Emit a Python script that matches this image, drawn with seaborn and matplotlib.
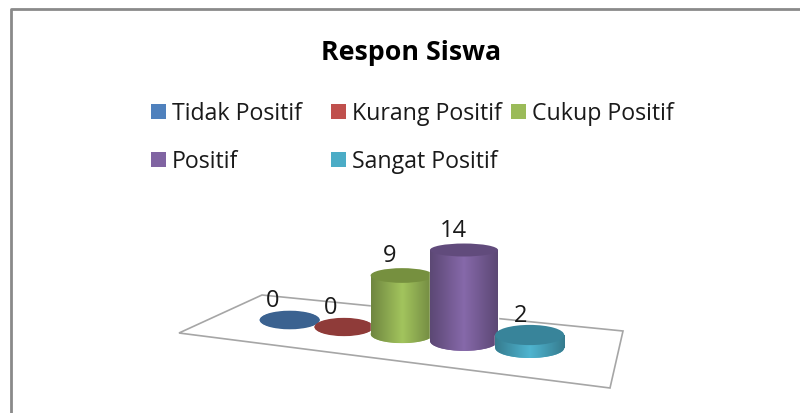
import numpy as np
import pandas as pd
import matplotlib
matplotlib.use("Agg")
import matplotlib.pyplot as plt
from matplotlib.patches import Ellipse, Rectangle, Polygon
from matplotlib.colors import LinearSegmentedColormap, to_rgb
import seaborn as sns

title = "Respon Siswa"
categories = ["Tidak Positif", "Kurang Positif", "Cukup Positif", "Positif", "Sangat Positif"]
values = [0, 0, 9, 14, 2]
colors = ["#4F81BD", "#C0504D", "#9BBB59", "#8064A2", "#4BACC6"]
top_colors = ["#3B6290", "#8F3B39", "#76903F", "#614B7C", "#38849A"]

sns.set_theme(style="white")
plt.rcParams["font.family"] = ["Open Sans", "DejaVu Sans"]

W, H = 800, 414
fig = plt.figure(figsize=(W / 100, H / 100), dpi=100, facecolor="white")
ax = fig.add_axes([0, 0, 1, 1])

# layout in pixels
PX_PER_UNIT = 6.5
X0, STEP, CURVE = 289.7, 52.4, 1.9
Y0, DROP = 321.0, 7.0
radius = [30, 29.5, 31.5, 34, 34.5]
label_dx = [-17, -13, -12, -11, -9]

df = pd.DataFrame({"cat": categories, "val": values})
sns.barplot(data=df, x="cat", y="val", hue="cat", palette=colors, legend=False,
            ax=ax, width=1.0, saturation=1)
ax.set_xlim(-X0, W - X0)                               # data x: pixels from the first bar
ax.set_ylim((Y0 - H) / PX_PER_UNIT, Y0 / PX_PER_UNIT)  # data y: chart units
ax.axis("off")


def px(x, y):
    return x - X0, (Y0 - y) / PX_PER_UNIT


# chart frame and floor
ax.plot(*zip(px(11.3, H), px(11.3, 9.7), px(W, 9.7)), color="#8A8A8A", lw=2.0, zorder=1, clip_on=False)
floor = [(179, 334), (262, 296), (623, 332), (610, 389)]
ax.add_patch(Polygon([px(*p) for p in floor], closed=True, fill=False,
                     edgecolor="#A6A6A6", lw=1.2, zorder=1))


def shade(c):
    rgb = np.array(to_rgb(c))
    return LinearSegmentedColormap.from_list(
        "c", [tuple(rgb * 0.72), tuple(np.minimum(rgb * 1.05, 1)), tuple(rgb * 0.72)])


grad = np.linspace(0, 1, 64)[None, :]

for i, (patch, val) in enumerate(zip(ax.patches[:len(values)], values)):
    cx = STEP * i + CURVE * i * i
    rx = radius[i]
    drop = DROP * i / PX_PER_UNIT
    base_y, top_y = -drop, val - drop
    patch.set_x(cx - rx)
    patch.set_width(2 * rx)
    patch.set_y(base_y)
    patch.set_zorder(3 + i)
    base_ry = rx * 0.29 / PX_PER_UNIT
    top_ry = rx * (0.31 - 0.0085 * val) / PX_PER_UNIT
    bottom = Ellipse((cx, base_y), 2 * rx, 2 * base_ry, facecolor=colors[i], edgecolor="none", zorder=3 + i)
    ax.add_patch(bottom)
    if val > 0:
        for clip in (patch, bottom):
            im = ax.imshow(grad, cmap=shade(colors[i]), aspect="auto", zorder=3 + i + 0.1,
                           extent=(cx - rx, cx + rx, base_y - base_ry, top_y))
            im.set_clip_path(clip)
    top = Ellipse((cx, top_y), 2 * rx, 2 * top_ry, facecolor=top_colors[i], edgecolor="none", zorder=3 + i + 0.2)
    ax.add_patch(top)
    ax.text(cx + label_dx[i], top_y + 14 / PX_PER_UNIT, str(val), ha="center", va="baseline",
            fontsize=17, color="#1a1a1a", zorder=20)

ax.set_xlim(-X0, W - X0)
ax.set_ylim((Y0 - H) / PX_PER_UNIT, Y0 / PX_PER_UNIT)

# title and legend
fig.text(411 / W, 1 - 60 / H, title, ha="center", va="baseline", fontsize=19.3, fontweight="bold", color="black")
legend_pos = [(151, 120), (331, 120), (511, 120), (151, 168), (331, 168)]
for (lx, ly), name, c in zip(legend_pos, categories, colors):
    x, y = px(lx, ly - 0.5)
    ax.add_patch(Rectangle((x, y), 14.5, 14.5 / PX_PER_UNIT, facecolor=c, edgecolor="none", zorder=2))
    fig.text((lx + 21) / W, 1 - ly / H, name, ha="left", va="baseline", fontsize=16.7, color="#1a1a1a")

fig.savefig("out.png", dpi=100)
